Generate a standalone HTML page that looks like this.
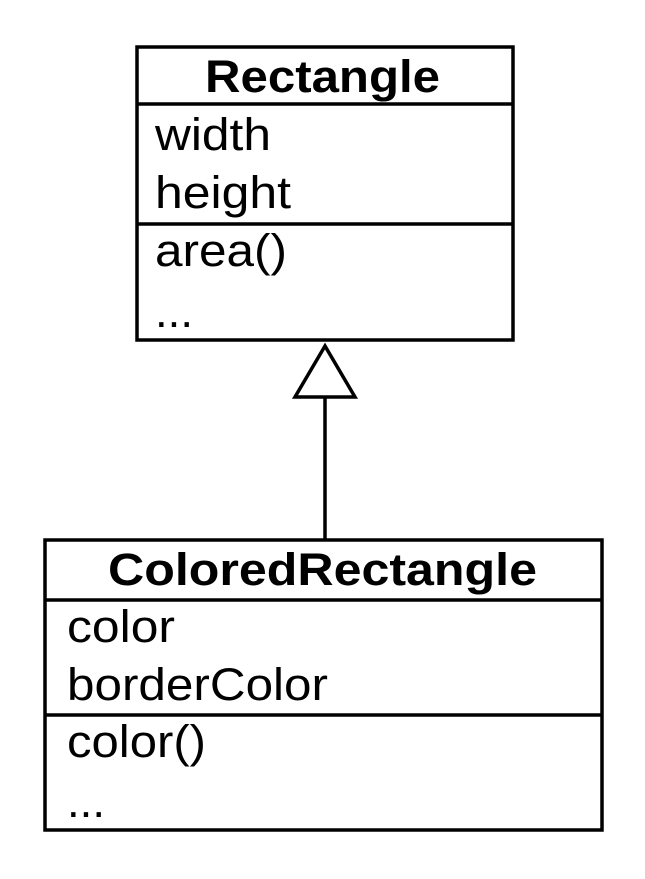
<!DOCTYPE html>
<html><head><meta charset="utf-8"><style>
html,body{margin:0;padding:0;background:#fff;}
svg{display:block}
text{font-family:"Liberation Sans",Arial,sans-serif;font-size:45px;fill:#000}
.b{font-weight:bold}
</style></head><body>
<svg width="645" height="879" viewBox="0 0 645 879" xmlns="http://www.w3.org/2000/svg">
<g fill="none" stroke="#000" stroke-width="3.5">
<rect x="137" y="47" width="376" height="293"/>
<line x1="137" y1="104" x2="513" y2="104"/>
<line x1="137" y1="224" x2="513" y2="224"/>
<polygon points="325,346 295,397 355,397"/>
<line x1="325" y1="397" x2="325" y2="540"/>
<rect x="45" y="540" width="557" height="290"/>
<line x1="45" y1="600" x2="602" y2="600"/>
<line x1="45" y1="715" x2="602" y2="715"/>
</g>
<text class="b" x="205" y="92" textLength="235" lengthAdjust="spacingAndGlyphs">Rectangle</text>
<text x="155" y="150" textLength="116" lengthAdjust="spacingAndGlyphs">width</text>
<text x="155" y="208" textLength="136" lengthAdjust="spacingAndGlyphs">height</text>
<text x="155" y="266" textLength="132" lengthAdjust="spacingAndGlyphs">area()</text>
<text x="155" y="327" textLength="38" lengthAdjust="spacingAndGlyphs">...</text>
<text class="b" x="108" y="585" textLength="429" lengthAdjust="spacingAndGlyphs">ColoredRectangle</text>
<text x="67" y="642" textLength="108" lengthAdjust="spacingAndGlyphs">color</text>
<text x="67" y="700" textLength="261" lengthAdjust="spacingAndGlyphs">borderColor</text>
<text x="67" y="757" textLength="139" lengthAdjust="spacingAndGlyphs">color()</text>
<text x="67" y="817" textLength="38" lengthAdjust="spacingAndGlyphs">...</text>
</svg>
</body></html>
